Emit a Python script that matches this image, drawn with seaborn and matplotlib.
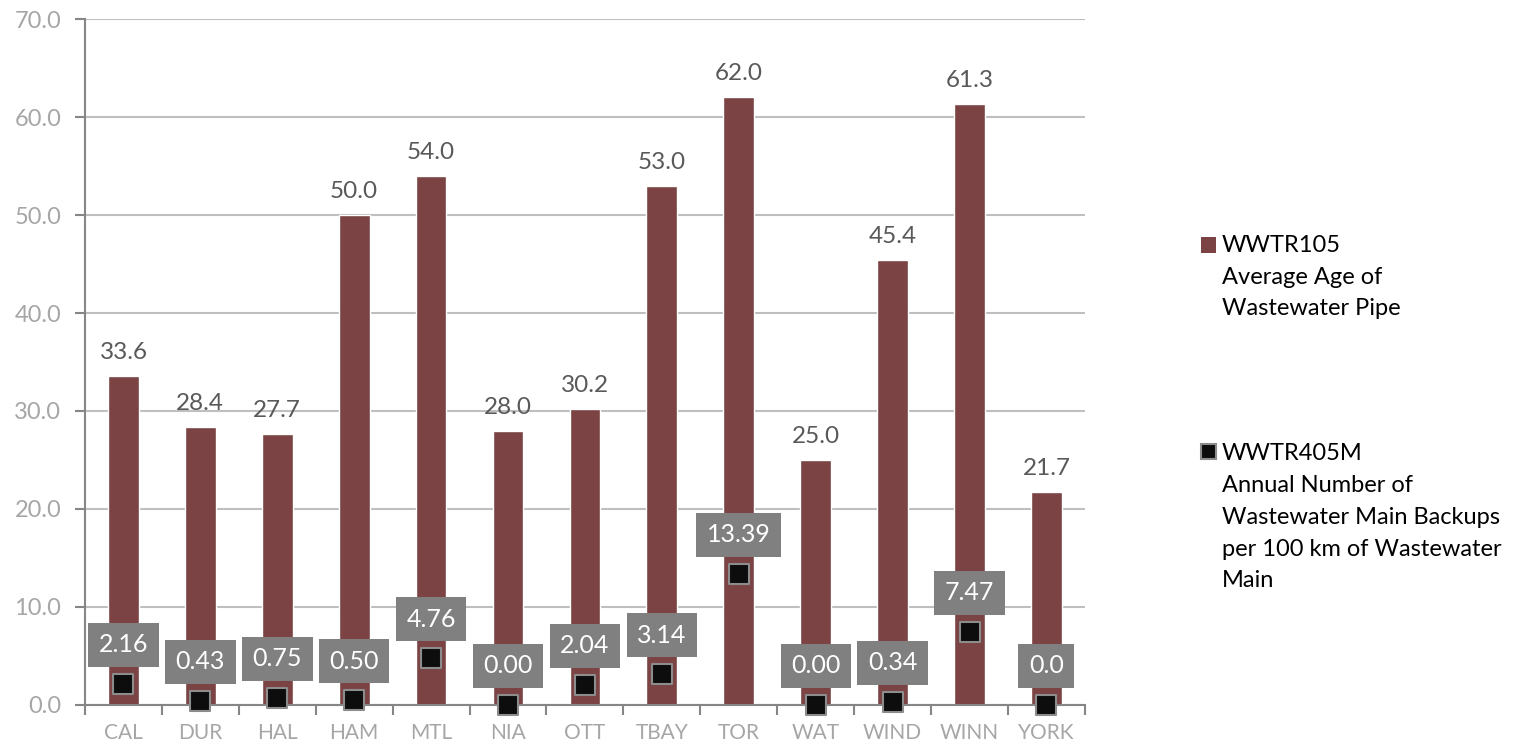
import numpy as np
import pandas as pd
import matplotlib
matplotlib.use("Agg")
import matplotlib.pyplot as plt
import seaborn as sns
from matplotlib.patches import Rectangle

# ── data ──────────────────────────────────────────────────────────────────────
cities   = ["CAL", "DUR", "HAL", "HAM", "MTL", "NIA", "OTT",
            "TBAY", "TOR", "WAT", "WIND", "WINN", "YORK"]
avg_age  = [33.6, 28.4, 27.7, 50.0, 54.0, 28.0, 30.2,
            53.0, 62.0, 25.0, 45.4, 61.3, 21.7]
backups  = [2.16, 0.43, 0.75, 0.50, 4.76, 0.00, 2.04,
            3.14, 13.39, 0.00, 0.34, 7.47, 0.0]
backup_labels = ["2.16", "0.43", "0.75", "0.50", "4.76", "0.00", "2.04",
                 "3.14", "13.39", "0.00", "0.34", "7.47", "0.0"]
y_ticks  = [0, 10, 20, 30, 40, 50, 60, 70]

BAR_COLOR  = "#7B4343"
GRID_COLOR = "#BFBFBF"
TICK_COLOR = "#A6A6A6"
LABEL_GRAY = "#595959"
BOX_GRAY   = "#808080"

df = pd.DataFrame({"city": cities, "age": avg_age, "backups": backups})

sns.set_theme(style="white")
plt.rcParams["font.family"] = ["Lato", "DejaVu Sans"]

fig = plt.figure(figsize=(15.15, 7.46), dpi=100)
ax = fig.add_axes([0.0561, 0.055, 0.66, 0.9195])

# ── bars ──────────────────────────────────────────────────────────────────────
sns.barplot(data=df, x="city", y="age", color=BAR_COLOR, saturation=1,
            width=0.4, ax=ax, zorder=2)
for i, v in enumerate(avg_age):
    ax.annotate(f"{v:.1f}", (i, v), xytext=(0, 13), textcoords="offset pixels",
                ha="center", va="bottom", fontsize=17.5, color=LABEL_GRAY)

# ── markers ───────────────────────────────────────────────────────────────────
xs = np.arange(len(cities))
ax.scatter(xs, backups, marker="s", s=200, color="#0D0D0D",
           edgecolor="#8C8C8C", linewidth=1.5, zorder=4, clip_on=False)
for i, (v, lab) in enumerate(zip(backups, backup_labels)):
    ax.annotate(lab, (i, v), xytext=(0, 39), textcoords="offset pixels",
                ha="center", va="center", fontsize=18, color="white", zorder=5,
                bbox=dict(boxstyle="square,pad=0.42", fc=BOX_GRAY, ec="none"))

# ── axes styling ──────────────────────────────────────────────────────────────
ax.set_ylim(0, 70)
ax.set_xlim(-0.5, len(cities) - 0.5)
ax.set_yticks(y_ticks)
ax.set_yticklabels([f"{t:.1f}" for t in y_ticks])
ax.set_xlabel(""); ax.set_ylabel("")
ax.grid(axis="y", color=GRID_COLOR, linewidth=1.5, zorder=0)
ax.set_axisbelow(True)
for side in ["top", "right"]:
    ax.spines[side].set_visible(False)
for side in ["left", "bottom"]:
    ax.spines[side].set_color("#868686")
    ax.spines[side].set_linewidth(1.5)
ax.tick_params(axis="y", length=7, width=1.5, color="#868686",
               labelsize=17, labelcolor=TICK_COLOR, left=True, pad=10)
ax.tick_params(axis="x", which="major", length=0, labelsize=15,
               labelcolor=TICK_COLOR, pad=13)
ax.set_xticks(np.arange(-0.5, len(cities), 1), minor=True)
ax.tick_params(axis="x", which="minor", length=7, width=1.5, color="#868686",
               bottom=True)

# ── legend (handle aligned with first text line) ──────────────────────────────
legend_items = [
    (BAR_COLOR, "none", 0.661, 0.685, "WWTR105\nAverage Age of\nWastewater Pipe"),
    ("#0D0D0D", "#8C8C8C", 0.3844, 0.4055,
     "WWTR405M\nAnnual Number of\nWastewater Main Backups\nper 100 km of Wastewater\nMain"),
]
for fc, ec, ybox, ytop, text in legend_items:
    fig.patches.append(Rectangle((0.7927, ybox), 0.0099, 0.0207,
                                 transform=fig.transFigure, fc=fc, ec=ec,
                                 lw=1.5, figure=fig))
    fig.text(0.8066, ytop, text, ha="left", va="top", fontsize=17,
             color="black", linespacing=1.63)

fig.savefig("out.png", dpi=100)
